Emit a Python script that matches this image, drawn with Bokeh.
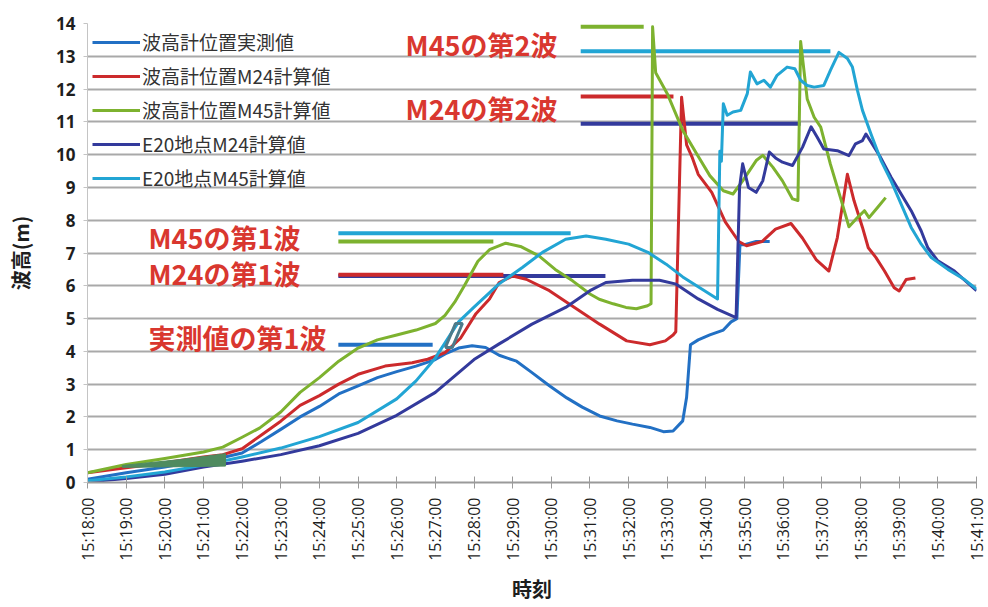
import numpy as np
from bokeh.plotting import figure
from bokeh.models import FixedTicker, Legend, LegendItem, Range1d
from bokeh.embed import file_html
from bokeh.resources import INLINE
from bokeh.core.properties import value

# Time axis: minutes after 15:00
tick_minutes = list(range(18, 42))
tick_labels = ["15:%02d:00" % m for m in tick_minutes]

# 波高計位置 実測値 (observed wave height at the gauge)
obs_t = [18.0, 19.0, 20.0, 21.0, 21.5, 22.0, 22.5, 23.0, 23.5, 24.0, 24.5, 25.0, 25.5,
         26.0, 26.5, 27.0, 27.3, 27.6, 27.95, 28.3, 28.65, 29.1, 29.5, 29.95, 30.4,
         30.8, 31.25, 31.7, 32.1, 32.55, 32.9, 33.15, 33.4, 33.5, 33.6, 33.8, 34.1,
         34.45, 34.65, 34.8, 34.88, 35.0, 35.3, 35.65]
obs_h = [0.1, 0.3, 0.47, 0.68, 0.76, 0.9, 1.25, 1.62, 2.0, 2.32, 2.7, 2.95, 3.2,
         3.38, 3.55, 3.75, 3.95, 4.1, 4.17, 4.12, 3.88, 3.7, 3.35, 2.95, 2.58,
         2.3, 2.03, 1.88, 1.78, 1.68, 1.55, 1.57, 1.88, 2.6, 4.2, 4.35, 4.5,
         4.65, 4.9, 5.0, 7.25, 7.25, 7.35, 7.35]

# 波高計位置 M24 計算値
gm24_t = [18.0, 19.0, 20.0, 21.0, 21.5, 22.0, 22.5, 23.0, 23.5, 24.0, 24.5, 25.0, 25.7,
          26.4, 26.8, 27.25, 27.65, 28.05, 28.4, 28.65, 29.0, 29.35, 29.95, 30.6, 31.25,
          31.95, 32.55, 32.95, 33.15, 33.22, 33.37, 33.5, 33.65, 33.8, 34.15, 34.5,
          34.85, 35.05, 35.45, 35.8, 36.2, 36.5, 36.85, 37.18, 37.4, 37.66, 37.83,
          38.05, 38.2, 38.4, 38.62, 38.87, 39.0, 39.18, 39.42]
gm24_h = [0.3, 0.45, 0.6, 0.78, 0.85, 1.03, 1.45, 1.87, 2.35, 2.65, 3.0, 3.3, 3.55,
          3.65, 3.76, 3.96, 4.4, 5.15, 5.6, 6.1, 6.3, 6.2, 5.85, 5.34, 4.83,
          4.32, 4.2, 4.32, 4.5, 4.6, 11.75, 10.3, 9.9, 9.4, 8.85, 7.95,
          7.35, 7.22, 7.35, 7.73, 7.9, 7.45, 6.8, 6.45, 7.47, 9.4, 8.6,
          7.78, 7.16, 6.86, 6.45, 5.94, 5.84, 6.19, 6.24]

# 波高計位置 M45 計算値
gm45_t = [18.0, 19.0, 20.0, 21.0, 21.5, 22.0, 22.45, 23.0, 23.5, 24.0, 24.5, 25.0, 25.5,
          26.0, 26.5, 27.0, 27.25, 27.5, 27.75, 28.1, 28.4, 28.82, 29.2, 29.68, 30.1,
          30.55, 31.0, 31.24, 31.6, 31.93, 32.2, 32.49, 32.58, 32.62, 32.7, 33.0, 33.4,
          33.76, 34.1, 34.45, 34.7, 34.95, 35.3, 35.47, 35.73, 35.98, 36.24, 36.38,
          36.45, 36.62, 36.8, 36.97, 37.22, 37.48, 37.7, 37.92, 38.1, 38.22, 38.44, 38.65]
gm45_h = [0.3, 0.55, 0.73, 0.93, 1.08, 1.38, 1.66, 2.15, 2.75, 3.2, 3.7, 4.1, 4.35,
          4.5, 4.65, 4.85, 5.1, 5.5, 6.0, 6.75, 7.1, 7.3, 7.2, 6.91, 6.5,
          6.15, 5.75, 5.59, 5.45, 5.34, 5.3, 5.39, 5.45, 13.9, 12.5, 11.86, 10.74,
          10.03, 9.36, 8.9, 8.8, 9.2, 9.82, 9.98, 9.62, 9.2, 8.65, 8.6,
          13.45, 11.7, 11.14, 10.84, 9.71, 8.69, 7.8, 8.08, 8.29, 8.08, 8.39, 8.69]

# E20 地点 M24 計算値
e24_t = [18.0, 19.0, 20.0, 21.0, 22.0, 23.0, 24.0, 25.0, 26.0, 27.0, 28.0, 28.64, 29.5,
         30.37, 31.0, 31.41, 32.1, 32.8, 33.23, 33.8, 34.3, 34.78, 34.87, 34.95, 35.1,
         35.3, 35.47, 35.64, 35.8, 35.98, 36.24, 36.5, 36.72, 36.88, 37.05, 37.4, 37.7,
         37.87, 38.05, 38.14, 38.5, 38.79, 39.05, 39.31, 39.57, 39.74, 40.0, 40.43, 41.0]
e24_h = [0.02, 0.12, 0.25, 0.47, 0.65, 0.85, 1.12, 1.5, 2.05, 2.75, 3.75, 4.22, 4.83,
         5.34, 5.85, 6.1, 6.17, 6.17, 6.05, 5.6, 5.28, 5.03, 9.0, 9.72, 9.0,
         8.85, 9.2, 10.08, 9.9, 9.77, 9.67, 10.23, 10.85, 10.53, 10.17, 10.12, 9.97,
         10.33, 10.43, 10.63, 9.95, 9.31, 8.8, 8.29, 7.67, 7.16, 6.76, 6.45, 5.85]

# E20 地点 M45 計算値
e45_t = [18.0, 19.0, 20.0, 21.0, 22.0, 23.0, 24.0, 25.0, 26.0, 26.5, 27.0, 27.6, 28.0,
         28.64, 29.25, 29.77, 30.37, 30.9, 31.41, 32.0, 32.5, 32.97, 33.4, 33.83, 34.3,
         34.36, 34.4, 34.45, 34.55, 34.7, 34.9, 35.07, 35.15, 35.32, 35.5, 35.67, 35.84,
         36.1, 36.3, 36.45, 36.62, 36.8, 37.05, 37.22, 37.44, 37.66, 37.79, 37.92,
         38.05, 38.27, 38.53, 38.79, 39.05, 39.31, 39.57, 39.83, 40.26, 40.69, 41.0]
e45_h = [0.05, 0.17, 0.32, 0.53, 0.78, 1.05, 1.4, 1.83, 2.55, 3.1, 3.8, 4.9, 5.35,
         6.05, 6.56, 7.02, 7.42, 7.52, 7.42, 7.27, 7.02, 6.66, 6.27, 5.95, 5.6,
         10.1, 9.8, 11.55, 11.2, 11.3, 11.35, 11.86, 12.52, 12.16, 12.27, 12.06, 12.42,
         12.67, 12.62, 12.27, 12.11, 12.06, 12.11, 12.57, 13.12, 12.93, 12.67, 11.96,
         11.35, 10.63, 9.82, 9.2, 8.49, 7.78, 7.27, 6.86, 6.5, 6.19, 5.9]

# Wave-peak marker lines: (level, start minute, end minute)
wave_marks = {
    "m45_2nd_gauge": (13.9, 30.76, 32.39),
    "m45_2nd_e20": (13.15, 30.76, 37.22),
    "m24_2nd_gauge": (11.77, 30.76, 33.16),
    "m24_2nd_e20": (10.94, 30.76, 36.45),
    "m45_1st_e20": (7.6, 24.49, 30.5),
    "m45_1st_gauge": (7.35, 24.49, 28.5),
    "m24_1st_e20": (6.3, 24.49, 31.4),
    "m24_1st_gauge": (6.34, 24.49, 28.76),
    "obs_1st": (4.2, 24.49, 26.93),
}
wave_texts = ["M45の第2波", "M24の第2波", "M45の第1波", "M24の第1波", "実測値の第1波"]

C_OBS = "#2270c4"
C_RED = "#cc2a2c"
C_GRN = "#7db22f"
C_NAVY = "#333a9c"
C_CYAN = "#22a5d4"
C_NOTE = "#d9372f"

JP = "Noto Sans CJK JP"

p = figure(width=988, height=607, x_range=Range1d(18, 41), y_range=Range1d(0, 14),
           output_backend="svg", toolbar_location=None,
           min_border_left=87, min_border_right=12, min_border_top=23, min_border_bottom=125)
p.outline_line_color = None
p.background_fill_color = "white"
p.border_fill_color = "white"

p.xgrid.visible = False
p.ygrid.grid_line_color = "#a9a9a9"
p.ygrid.grid_line_width = 2

p.yaxis.ticker = FixedTicker(ticks=list(range(0, 15)))
p.yaxis.major_label_text_font = "Open Sans"
p.yaxis.major_label_text_font_style = "bold"
p.yaxis.major_label_text_font_size = "17px"
p.yaxis.major_label_text_color = "#1e1e1e"
p.yaxis.axis_line_color = "#c4c4c4"
p.yaxis.major_tick_in = 0
p.yaxis.major_tick_out = 4
p.yaxis.major_tick_line_color = "#c4c4c4"
p.yaxis.minor_tick_line_color = None
p.yaxis.major_label_standoff = 8
p.yaxis.axis_label = "波高(m)"
p.yaxis.axis_label_text_font = JP
p.yaxis.axis_label_text_font_style = "bold"
p.yaxis.axis_label_text_font_size = "20px"
p.yaxis.axis_label_text_color = "#1e1e1e"
p.yaxis.axis_label_standoff = 18

p.xaxis.ticker = FixedTicker(ticks=tick_minutes)
p.xaxis.major_label_overrides = {m: lab for m, lab in zip(tick_minutes, tick_labels)}
p.xaxis.major_label_orientation = np.pi / 2
p.xaxis.major_label_text_font = "Open Sans"
p.xaxis.major_label_text_font_size = "16px"
p.xaxis.major_label_text_color = "#1e1e1e"
p.xaxis.axis_line_color = "#9a9a9a"
p.xaxis.axis_line_width = 2
p.xaxis.major_tick_in = 6
p.xaxis.major_tick_out = 6
p.xaxis.major_tick_line_color = "#9a9a9a"
p.xaxis.minor_tick_line_color = None
p.xaxis.major_label_standoff = 9
p.xaxis.axis_label = "時刻"
p.xaxis.axis_label_text_font = JP
p.xaxis.axis_label_text_font_style = "bold"
p.xaxis.axis_label_text_font_size = "20px"
p.xaxis.axis_label_text_color = "#1e1e1e"
p.xaxis.axis_label_standoff = 10

# peak marker lines
mark_colors = {
    "m45_2nd_gauge": C_GRN, "m45_2nd_e20": C_CYAN,
    "m24_2nd_gauge": C_RED, "m24_2nd_e20": C_NAVY,
    "m45_1st_e20": C_CYAN, "m45_1st_gauge": C_GRN,
    "m24_1st_e20": C_NAVY, "m24_1st_gauge": C_RED,
    "obs_1st": C_OBS,
}
for key, (lvl, t0, t1) in wave_marks.items():
    p.segment(x0=[t0], y0=[lvl], x1=[t1], y1=[lvl], line_color=mark_colors[key], line_width=4)

series = [
    ("波高計位置実測値", obs_t, obs_h, C_OBS),
    ("波高計位置M24計算値", gm24_t, gm24_h, C_RED),
    ("波高計位置M45計算値", gm45_t, gm45_h, C_GRN),
    ("E20地点M24計算値", e24_t, e24_h, C_NAVY),
    ("E20地点M45計算値", e45_t, e45_h, C_CYAN),
]
items = []
for name, t, h, col in series:
    r = p.line(t, h, line_color=col, line_width=3, line_join="round")
    items.append(LegendItem(label=name, renderers=[r]))

# small pasted-over marks on the rising limb
p.patch([18.9, 20.4, 21.57, 21.57, 18.9], [0.52, 0.7, 0.88, 0.5, 0.46],
        fill_color="#4f8b5f", line_color="#4f8b5f", line_width=1)
p.patch([27.26, 27.52, 27.70, 27.44], [4.12, 4.85, 4.85, 4.12],
        fill_color=None, line_color="#4d7a8a", line_width=3)

legend = Legend(items=items, location="top_left")
legend.background_fill_alpha = 0
legend.border_line_alpha = 0
legend.label_text_font = JP
legend.label_text_font_size = "19px"
legend.label_text_color = "#333333"
legend.glyph_width = 48
legend.glyph_height = 20
legend.label_standoff = 2
legend.spacing = 7
legend.padding = 5
legend.margin = 0
p.add_layout(legend)

# wave labels
p.text(x=[26.23, 26.23, 19.58, 19.58, 19.58], y=[13.37, 11.42, 7.48, 6.38, 4.43],
       text=wave_texts, text_font=value(JP), text_font_style="bold",
       text_font_size="27px", text_color=C_NOTE, text_baseline="middle", text_align="left")

open("out.html", "w").write(file_html(p, INLINE))
